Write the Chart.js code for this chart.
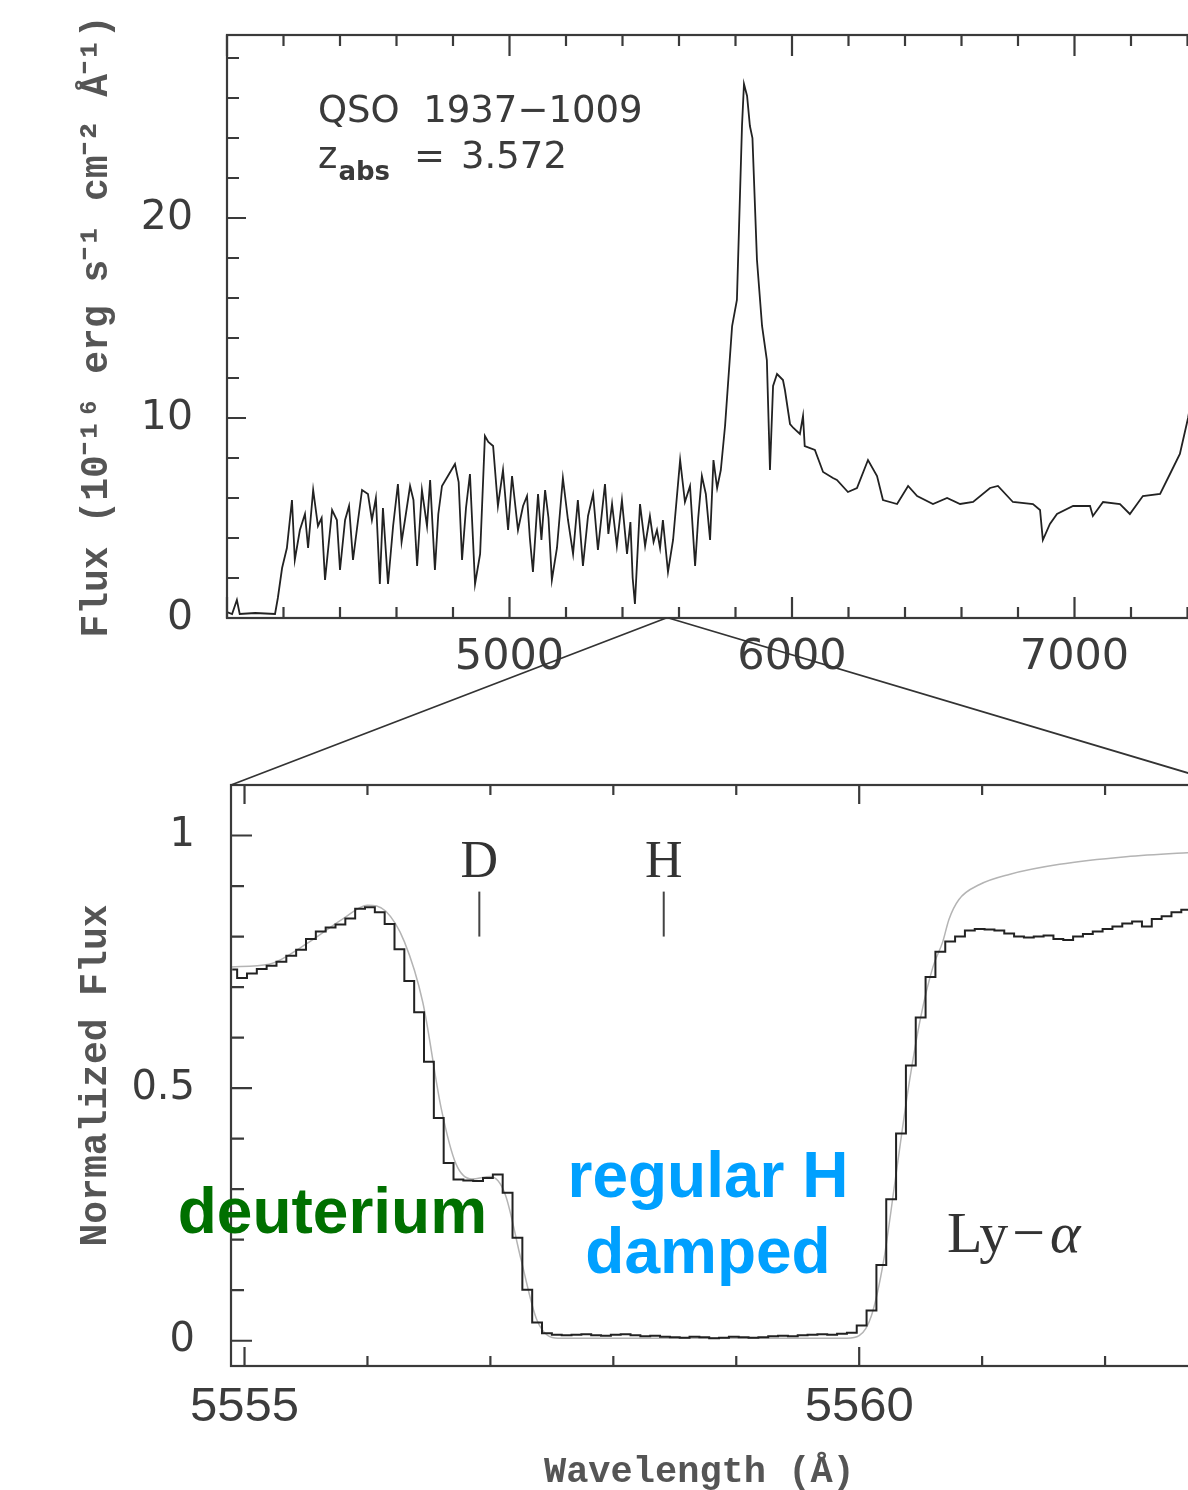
<!DOCTYPE html>
<html>
<head>
<meta charset="utf-8">
<script src="https://cdn.jsdelivr.net/npm/chart.js@4.4.1/dist/chart.umd.min.js"></script>
<style>
	html, body { margin: 0; padding: 0; background: #fff; }
	body { width: 1188px; height: 1490px; overflow: hidden; position: relative; }
	#topChart { position: absolute; left: 0; top: 0; }
	#zoomChart { position: absolute; left: 0; top: 700px; }
	#zoomLines { position: absolute; left: 0; top: 0; pointer-events: none; }
</style>
</head>
<body>
<canvas id="topChart" width="1300" height="700"></canvas>
<canvas id="zoomChart" width="1300" height="790"></canvas>
<canvas id="zoomLines" width="1188" height="1490"></canvas>
<script>
// Спектр квазара (верхняя панель)
const topWave = [
	4000, 4018, 4035, 4045, 4100, 4170, 4180, 4195, 4212, 4230,
	4240, 4258, 4276, 4287, 4305, 4322, 4335, 4347, 4372, 4389,
	4400, 4418, 4432, 4446, 4464, 4478, 4499, 4513, 4527, 4541,
	4552, 4570, 4588, 4605, 4618, 4630, 4648, 4660, 4673, 4690,
	4708, 4719, 4736, 4748, 4761, 4782, 4807, 4820, 4832, 4846,
	4860, 4878, 4896, 4913, 4925, 4942, 4959, 4977, 4995, 5009,
	5030, 5048, 5062, 5072, 5083, 5101, 5113, 5126, 5138, 5150,
	5168, 5189, 5207, 5225, 5242, 5260, 5278, 5296, 5313, 5338,
	5350, 5363, 5380, 5398, 5416, 5428, 5436, 5444, 5462, 5480,
	5497, 5510, 5522, 5533, 5543, 5561, 5579, 5604, 5621, 5639,
	5657, 5668, 5681, 5695, 5710, 5722, 5735, 5748, 5763, 5788,
	5805, 5823, 5830, 5841, 5851, 5860, 5876, 5894, 5911, 5922,
	5933, 5947, 5968, 5975, 5993, 6005, 6028, 6039, 6045, 6081,
	6110, 6145, 6159, 6198, 6230, 6269, 6301, 6322, 6372, 6411,
	6443, 6499, 6549, 6595, 6641, 6701, 6729, 6782, 6853, 6878,
	6888, 6913, 6938, 6995, 7055, 7065, 7101, 7161, 7196, 7242,
	7303, 7338, 7373, 7402, 7440, 7480
];
const topFlux = [
	0.3, 0.2, 0.9, 0.2, 0.25, 0.2, 1.0, 2.5, 3.5, 5.9,
	2.9, 4.4, 5.2, 3.5, 6.4, 4.6, 5.0, 1.9, 5.4, 4.9,
	2.4, 4.9, 5.6, 2.9, 4.9, 6.4, 6.2, 4.9, 6.0, 1.7,
	5.5, 1.7, 4.6, 6.7, 3.8, 4.9, 6.6, 5.9, 2.6, 6.4,
	4.6, 6.9, 2.4, 5.2, 6.6, 7.1, 7.7, 6.8, 2.9, 5.5,
	7.2, 1.7, 3.2, 9.1, 8.8, 8.6, 5.6, 7.4, 4.4, 7.1,
	4.4, 5.6, 6.1, 4.0, 2.3, 6.2, 3.9, 6.4, 5.0, 1.9,
	3.5, 7.0, 4.9, 3.2, 5.9, 2.6, 5.1, 6.2, 3.4, 6.7,
	4.2, 5.7, 3.6, 5.9, 3.2, 4.8, 2.0, 0.7, 5.7, 3.6,
	5.1, 3.8, 4.4, 3.5, 4.9, 2.3, 3.9, 7.9, 5.8, 6.6,
	2.6, 5.0, 7.1, 6.2, 3.9, 7.9, 6.5, 7.4, 9.6, 14.6,
	15.9, 24.6, 26.7, 26.1, 24.6, 24.0, 17.9, 14.6, 12.9, 7.4,
	11.6, 12.2, 11.9, 11.4, 9.7, 9.5, 9.2, 10.1, 8.6, 8.4,
	7.3, 7.0, 6.9, 6.3, 6.5, 7.9, 7.1, 5.9, 5.7, 6.6,
	6.1, 5.7, 6.0, 5.7, 5.8, 6.5, 6.6, 5.8, 5.7, 5.4,
	3.9, 4.7, 5.2, 5.6, 5.6, 5.1, 5.8, 5.7, 5.2, 6.1,
	6.2, 7.2, 8.2, 10.0, 13.0, 16.0
];
const topXLabels = [5000, 6000, 7000];
const topYLabels = [0, 10, 20];

// Нормированный поток вокруг линии Ly-alpha (нижняя панель)
const zoomWave = [
	5554.90, 5554.98, 5555.06, 5555.14, 5555.22, 5555.30, 5555.38, 5555.46, 5555.54, 5555.62,
	5555.70, 5555.78, 5555.86, 5555.94, 5556.02, 5556.10, 5556.18, 5556.26, 5556.34, 5556.42,
	5556.50, 5556.58, 5556.66, 5556.74, 5556.82, 5556.90, 5556.98, 5557.06, 5557.14, 5557.22,
	5557.30, 5557.38, 5557.46, 5557.54, 5557.62, 5557.70, 5557.78, 5557.86, 5557.94, 5558.02,
	5558.10, 5558.18, 5558.26, 5558.34, 5558.42, 5558.50, 5558.58, 5558.66, 5558.74, 5558.82,
	5558.90, 5558.98, 5559.06, 5559.14, 5559.22, 5559.30, 5559.38, 5559.46, 5559.54, 5559.62,
	5559.70, 5559.78, 5559.86, 5559.94, 5560.02, 5560.10, 5560.18, 5560.26, 5560.34, 5560.42,
	5560.50, 5560.58, 5560.66, 5560.74, 5560.82, 5560.90, 5560.98, 5561.06, 5561.14, 5561.22,
	5561.30, 5561.38, 5561.46, 5561.54, 5561.62, 5561.70, 5561.78, 5561.86, 5561.94, 5562.02,
	5562.10, 5562.18, 5562.26, 5562.34, 5562.42, 5562.50, 5562.58, 5562.66, 5562.74, 5562.82,
	5562.90, 5562.98
];
const zoomFlux = [
	0.735, 0.718, 0.727, 0.736, 0.742, 0.750, 0.762, 0.774, 0.795, 0.810,
	0.818, 0.824, 0.836, 0.855, 0.858, 0.848, 0.825, 0.775, 0.712, 0.650,
	0.552, 0.441, 0.352, 0.319, 0.317, 0.316, 0.322, 0.329, 0.293, 0.204,
	0.101, 0.036, 0.015, 0.012, 0.011, 0.012, 0.013, 0.011, 0.010, 0.012,
	0.013, 0.011, 0.009, 0.010, 0.008, 0.007, 0.006, 0.008, 0.007, 0.005,
	0.006, 0.008, 0.007, 0.006, 0.007, 0.009, 0.010, 0.009, 0.011, 0.012,
	0.013, 0.012, 0.014, 0.016, 0.030, 0.060, 0.150, 0.280, 0.410, 0.545,
	0.640, 0.720, 0.770, 0.790, 0.800, 0.812, 0.815, 0.814, 0.812, 0.806,
	0.800, 0.798, 0.800, 0.802, 0.795, 0.793, 0.800, 0.805, 0.810, 0.815,
	0.820, 0.826, 0.830, 0.820, 0.835, 0.840, 0.848, 0.853, 0.856, 0.860,
	0.862, 0.865
];
// Модельный профиль (серая линия)
const modelWave = [
	5554.89, 5555.2, 5555.5, 5555.8, 5556.0, 5556.15, 5556.3, 5556.45, 5556.6, 5556.72,
	5556.85, 5557.0, 5557.12, 5557.25, 5557.38, 5557.55, 5559.9, 5560.0, 5560.1, 5560.2,
	5560.3, 5560.4, 5560.5, 5560.6, 5560.68, 5560.73, 5560.81, 5560.98, 5561.22, 5561.63,
	5562.17, 5562.67, 5563.0
];
const modelFlux = [
	0.740, 0.745, 0.785, 0.835, 0.862, 0.850, 0.790, 0.670, 0.460, 0.350,
	0.320, 0.325, 0.290, 0.160, 0.040, 0.005, 0.005, 0.010, 0.050, 0.160,
	0.330, 0.500, 0.640, 0.740, 0.790, 0.834, 0.873, 0.903, 0.923, 0.943,
	0.958, 0.966, 0.970
];
const zoomXLabels = [5555, 5560];
const zoomYLabels = [0, 0.5, 1];
const markLabels = ['D', 'H'];
const markWaves = [5556.91, 5558.41];

const toXY = (xs, ys) => xs.map((x, i) => ({ x: x, y: ys[i] }));

function eachTick(scale, step, major, fn) {
	const n0 = Math.ceil(scale.min / step - 1e-9);
	const n1 = Math.floor(scale.max / step + 1e-9);
	for (let n = n0; n <= n1; n++) {
		const v = n * step;
		const r = v / major;
		fn(v, Math.abs(r - Math.round(r)) < 1e-6);
	}
}

// Рамка и засечки внутрь, как в старых графиках
const frameTicks = {
	id: 'frameTicks',
	afterDatasetsDraw(chart, args, o) {
		const { ctx, chartArea: a, scales: { x, y } } = chart;
		ctx.save();
		ctx.strokeStyle = o.color;
		ctx.lineWidth = o.width;
		ctx.strokeRect(a.left, a.top, a.right - a.left, a.bottom - a.top);
		ctx.beginPath();
		eachTick(x, o.xMinor, o.xMajor, (v, major) => {
			const px = x.getPixelForValue(v);
			const len = major ? o.xMajorLen : o.xMinorLen;
			ctx.moveTo(px, a.bottom); ctx.lineTo(px, a.bottom - len);
			ctx.moveTo(px, a.top); ctx.lineTo(px, a.top + len);
		});
		eachTick(y, o.yMinor, o.yMajor, (v, major) => {
			const py = y.getPixelForValue(v);
			const len = major ? o.yMajorLen : o.yMinorLen;
			ctx.moveTo(a.left, py); ctx.lineTo(a.left + len, py);
			ctx.moveTo(a.right, py); ctx.lineTo(a.right - len, py);
		});
		ctx.stroke();
		ctx.restore();
	}
};

// Подписи внутри графика
const notes = {
	id: 'notes',
	afterDraw(chart, args, o) {
		const { ctx, chartArea: a, scales: { x, y } } = chart;
		ctx.save();
		ctx.textBaseline = 'alphabetic';
		(o.lines || []).forEach(l => {
			const px = x.getPixelForValue(l.x);
			ctx.strokeStyle = l.color;
			ctx.lineWidth = l.width;
			ctx.beginPath();
			ctx.moveTo(px, y.getPixelForValue(l.y1));
			ctx.lineTo(px, y.getPixelForValue(l.y2));
			ctx.stroke();
		});
		(o.items || []).forEach(it => {
			let px = x.getPixelForValue(it.x);
			const py = it.below !== undefined ? a.bottom + it.below : y.getPixelForValue(it.y);
			const segs = it.segs || [{ t: it.text }];
			let total = 0;
			segs.forEach(s => {
				ctx.font = s.font || it.font;
				total += ctx.measureText(s.t).width + (s.gap || 0);
			});
			if (it.align === 'center') px -= total / 2;
			ctx.fillStyle = it.color;
			segs.forEach(s => {
				ctx.font = s.font || it.font;
				px += s.gap || 0;
				ctx.fillText(s.t, px, py + (s.dy || 0));
				px += ctx.measureText(s.t).width;
			});
		});
		ctx.restore();
	}
};

// Убираем запас под подписи, чтобы область графика стояла точно
const noPadY = s => { s.paddingTop = 0; s.paddingBottom = 0; };
const noPadX = s => { s.paddingLeft = 0; s.paddingRight = 0; };

const inkColor = '#3c3c3c';

const topConfig = {
	type: 'line',
	data: {
		datasets: [{
			data: toXY(topWave, topFlux),
			borderColor: '#222',
			borderWidth: 1.8,
			pointRadius: 0,
			tension: 0
		}]
	},
	options: {
		responsive: false,
		animation: false,
		layout: { padding: { left: 75, top: 35, right: 56, bottom: 0 } },
		plugins: {
			legend: { display: false },
			tooltip: { enabled: false },
			frameTicks: {
				color: '#3a3a3a', width: 2.2,
				xMinor: 200, xMajor: 1000, xMinorLen: 11, xMajorLen: 21,
				yMinor: 2, yMajor: 10, yMinorLen: 12, yMajorLen: 19
			},
			notes: {
				items: [
					{ x: 4322, y: 24.8, text: 'QSO  1937\u22121009', font: '37px "DejaVu Sans"', color: '#3a3a3a' },
					{ x: 4322, y: 22.5, font: '37px "DejaVu Sans"', color: '#3a3a3a', segs: [
						{ t: 'z' },
						{ t: 'abs', font: 'bold 26px "DejaVu Sans"', dy: 12, gap: 1 },
						{ t: '=', gap: 24 },
						{ t: '3.572', gap: 16 }
					] }
				]
			}
		},
		scales: {
			x: {
				type: 'linear',
				min: 4000,
				max: 7600,
				grid: { display: false, drawTicks: false },
				border: { display: false },
				afterBuildTicks: s => { s.ticks = topXLabels.map(v => ({ value: v })); },
				afterFit: s => { s.height = 82; noPadX(s); },
				ticks: {
					autoSkip: false, maxRotation: 0, padding: 14,
					color: inkColor,
					font: { family: 'DejaVu Sans', size: 43 },
					callback: v => String(v)
				}
			},
			y: {
				min: 0,
				max: 29.15,
				grid: { display: false, drawTicks: false },
				border: { display: false },
				afterBuildTicks: s => { s.ticks = topYLabels.map(v => ({ value: v })); },
				afterFit: s => { s.width = 152; noPadY(s); },
				ticks: {
					padding: 34,
					color: inkColor,
					font: { family: 'DejaVu Sans', size: 41 },
					callback: v => String(v)
				},
				title: {
					display: true,
					text: 'Flux (10\u207B\u00B9\u2076 erg s\u207B\u00B9 cm\u207B\u00B2 \u00C5\u207B\u00B9)',
					color: '#555',
					padding: 0,
					font: { family: 'Liberation Mono', size: 38, weight: 'bold' }
				}
			}
		}
	},
	plugins: [frameTicks, notes]
};

const zoomConfig = {
	type: 'line',
	data: {
		datasets: [{
			data: toXY(zoomWave, zoomFlux),
			borderColor: '#222',
			borderWidth: 2,
			pointRadius: 0,
			stepped: 'middle',
			order: 0
		}, {
			data: toXY(modelWave, modelFlux),
			borderColor: '#b4b4b4',
			borderWidth: 1.5,
			pointRadius: 0,
			cubicInterpolationMode: 'monotone',
			order: 1
		}]
	},
	options: {
		responsive: false,
		animation: false,
		layout: { padding: { left: 74, top: 85, right: 72, bottom: 0 } },
		plugins: {
			legend: { display: false },
			tooltip: { enabled: false },
			frameTicks: {
				color: '#3a3a3a', width: 2.2,
				xMinor: 1, xMajor: 5, xMinorLen: 10, xMajorLen: 19,
				yMinor: 0.1, yMajor: 0.5, yMinorLen: 13, yMajorLen: 21
			},
			notes: {
				lines: markWaves.map(w => ({ x: w, y1: 0.80, y2: 0.889, color: '#444', width: 2 })),
				items: markLabels.map((t, i) => ({
					x: markWaves[i], y: 0.917, text: t, align: 'center',
					font: '52px "Liberation Serif"', color: '#333'
				})).concat([
					{ x: 5555.715, y: 0.214, text: 'deuterium', align: 'center',
						font: 'bold 64px "Liberation Sans"', color: '#007000' },
					{ x: 5558.77, y: 0.285, text: 'regular H', align: 'center',
						font: 'bold 64px "Liberation Sans"', color: '#00a0ff' },
					{ x: 5558.77, y: 0.135, text: 'damped', align: 'center',
						font: 'bold 64px "Liberation Sans"', color: '#00a0ff' },
					{ x: 5560.715, y: 0.175, font: '58px "Liberation Serif"', color: '#333', segs: [
						{ t: 'Ly' },
						{ t: '\u2212', gap: 4 },
						{ t: '\u03B1', font: 'italic 58px "Liberation Serif"', gap: 5 }
					] },
					{ x: 5558.70, below: 116, text: 'Wavelength (\u00C5)', align: 'center',
						font: 'bold 37px "Liberation Mono"', color: '#555' }
				])
			}
		},
		scales: {
			x: {
				type: 'linear',
				min: 5554.89,
				max: 5563.0,
				grid: { display: false, drawTicks: false },
				border: { display: false },
				afterBuildTicks: s => { s.ticks = zoomXLabels.map(v => ({ value: v })); },
				afterFit: s => { s.height = 124; noPadX(s); },
				ticks: {
					autoSkip: false, maxRotation: 0, padding: 12,
					color: inkColor,
					font: { family: 'Liberation Sans', size: 49 },
					callback: v => String(v)
				}
			},
			y: {
				min: -0.05,
				max: 1.1,
				grid: { display: false, drawTicks: false },
				border: { display: false },
				afterBuildTicks: s => { s.ticks = zoomYLabels.map(v => ({ value: v })); },
				afterFit: s => { s.width = 157; noPadY(s); },
				ticks: {
					padding: 36,
					color: inkColor,
					font: { family: 'DejaVu Sans', size: 40 },
					callback: v => String(v)
				},
				title: {
					display: true,
					text: 'Normalized Flux',
					color: '#555',
					padding: 0,
					font: { family: 'Liberation Mono', size: 38, weight: 'bold' }
				}
			}
		}
	},
	plugins: [frameTicks, notes]
};

const topChart = new Chart(document.getElementById('topChart'), topConfig);
const zoomChart = new Chart(document.getElementById('zoomChart'), zoomConfig);

// Линии увеличения: от участка спектра к рамке нижней панели
const lc = document.getElementById('zoomLines').getContext('2d');
const zx = zoomChart.scales.x;
const zArea = zoomChart.chartArea;
const zTop = 700 + zArea.top;
const baseY = topChart.scales.y.getPixelForValue(0);
lc.strokeStyle = '#333';
lc.lineWidth = 1.8;
lc.beginPath();
lc.moveTo(topChart.scales.x.getPixelForValue(zx.min), baseY);
lc.lineTo(zArea.left, zTop);
lc.moveTo(topChart.scales.x.getPixelForValue(zx.max), baseY);
lc.lineTo(zArea.right, zTop);
lc.stroke();
</script>
</body>
</html>
